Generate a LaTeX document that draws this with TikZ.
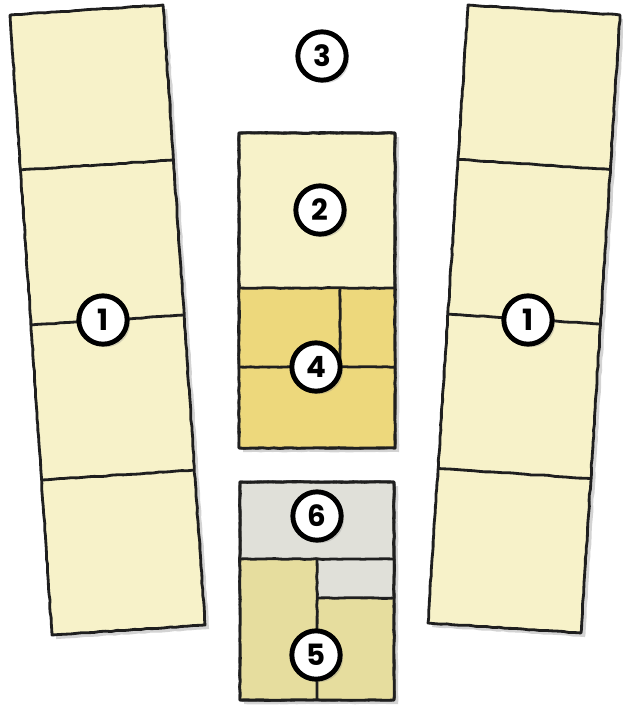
\documentclass[tikz,border=0pt]{standalone}
\usepackage{fontspec}
\newfontfamily\numfont{Poppins}
\usetikzlibrary{calc,shadows,decorations.pathmorphing}
\definecolor{cream}{HTML}{F7F2C9}
\definecolor{gold}{HTML}{EDD87C}
\definecolor{khaki}{HTML}{E6DD9E}
\definecolor{ash}{HTML}{E0E0D9}

\begin{document}
\begin{tikzpicture}[x=0.03cm,y=-0.03cm,
  wob/.style={decorate,decoration={random steps,segment length=5pt,amplitude=0.35pt}},
  zone/.style={draw=black!88,line width=2.4pt,line join=round},
  shade/.style={drop shadow={shadow xshift=3.5pt,shadow yshift=-3.5pt,opacity=0.35}},
  num/.style={circle,draw=black,line width=4.2pt,fill=white,minimum size=1.45cm,inner sep=0pt,
    font=\numfont\bfseries\fontsize{25}{25}\selectfont,
    drop shadow={shadow xshift=2.5pt,shadow yshift=-2.5pt,opacity=0.3}}]
  \pgfmathsetseed{7}
  \useasboundingbox (0,0) rectangle (623,721);

  \coordinate (ltl) at (10,15);   \coordinate (ltr) at (163,5);
  \coordinate (lbr) at (205,625); \coordinate (lbl) at (52,635);
  \coordinate (rtl) at (468,5);   \coordinate (rtr) at (620,15);
  \coordinate (rbr) at (581,633); \coordinate (rbl) at (428,623);

  \filldraw[zone,fill=cream,shade,wob] (ltl)--(ltr)--(lbr)--(lbl)--cycle;
  \filldraw[zone,fill=cream,shade,wob] (rtl)--(rtr)--(rbr)--(rbl)--cycle;
  \foreach \f in {0.25,0.5,0.75} {
    \draw[zone,wob] ($(ltl)!\f!(lbl)$) -- ($(ltr)!\f!(lbr)$);
    \draw[zone,wob] ($(rtl)!\f!(rbl)$) -- ($(rtr)!\f!(rbr)$);
  }

  \coordinate (top-nw) at (239,133); \coordinate (top-se) at (395,448);
  \filldraw[zone,fill=cream,shade,wob] (top-nw) rectangle (top-se);
  \fill[gold] (239,288) rectangle (395,448);
  \draw[zone,wob] (239,288) -- (395,288);
  \draw[zone,wob] (340,288) -- (340,367);
  \draw[zone,wob] (239,367) -- (395,367);
  \draw[zone,wob] (top-nw) rectangle (top-se);

  \coordinate (bot-nw) at (240,482); \coordinate (bot-se) at (394,700);
  \filldraw[zone,fill=ash,shade,wob] (bot-nw) rectangle (bot-se);
  \fill[khaki] (240,559) rectangle (317,700);
  \fill[khaki] (317,598) rectangle (394,700);
  \draw[zone,wob] (240,559) -- (394,559);
  \draw[zone,wob] (317,559) -- (317,700);
  \draw[zone,wob] (317,598) -- (394,598);
  \draw[zone,wob] (bot-nw) rectangle (bot-se);

  \node[num] (one-l) at (103,320) {1};
  \node[num] (one-r) at (528,320) {1};
  \node[num] (two) at (320,210) {2};
  \node[num] (three) at (322,56) {3};
  \node[num] (four) at (316,367) {4};
  \node[num] (five) at (316,655) {5};
  \node[num] (six) at (317,516) {6};
\end{tikzpicture}
\end{document}
